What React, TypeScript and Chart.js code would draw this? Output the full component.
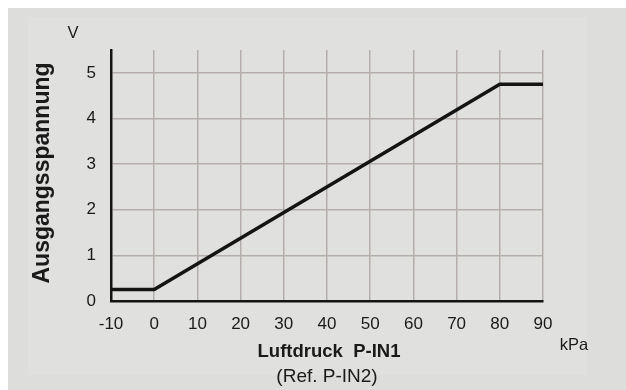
import React, { useEffect, useRef } from "react";
import { Chart, registerables } from "chart.js";

Chart.register(...registerables);

const pressureKPa = [-10, 0, 80, 90];
const outputVolt = [0.25, 0.25, 4.75, 4.75];
const yTickValues = [0, 1, 2, 3, 4, 5];
const xTitle = "Luftdruck  P-IN1";
const xSubTitle = "(Ref. P-IN2)";
const yTitle = "Ausgangsspannung";
const xUnit = "kPa";
const yUnit = "V";

const FONT = "'Liberation Sans', Arial, Helvetica, sans-serif";

const bgPlugin = {
  id: "bgPlugin",
  beforeDraw(chart: any) {
    const ctx = chart.ctx;
    ctx.save();
    ctx.fillStyle = "#dddddc";
    ctx.fillRect(0, 0, chart.width, chart.height);
    ctx.fillStyle = "#e0e0df";
    ctx.fillRect(20, 9, 559, 358);
    ctx.restore();
  },
  afterDraw(chart: any) {
    const ctx = chart.ctx;
    const area = chart.chartArea;
    ctx.save();
    ctx.fillStyle = "#1a1a1a";
    ctx.textAlign = "center";
    ctx.textBaseline = "alphabetic";
    ctx.font = `bold 18.5px ${FONT}`;
    ctx.fillText(xTitle, 321, 349);
    ctx.font = `19px ${FONT}`;
    ctx.fillText(xSubTitle, 319, 373.5);
    ctx.font = `16.5px ${FONT}`;
    ctx.fillText(xUnit, area.right + 31, 342);
    ctx.fillText(yUnit, 65, 30);
    ctx.translate(41, 165);
    ctx.rotate(-Math.PI / 2);
    ctx.font = `bold 23px ${FONT}`;
    ctx.fillText(yTitle, 0, 0);
    ctx.restore();
  },
};

export default function App() {
  const ref = useRef<HTMLCanvasElement>(null);
  useEffect(() => {
    if (!ref.current) return;
    const chart = new Chart(ref.current, {
      type: "line",
      data: {
        datasets: [
          {
            data: pressureKPa.map((x, i) => ({ x, y: outputVolt[i] })),
            borderColor: "#141414",
            borderWidth: 3.5,
            pointRadius: 0,
            tension: 0,
            fill: false,
          },
        ],
      },
      options: {
        responsive: false,
        animation: false,
        layout: { padding: { top: 42, left: 0, right: 83, bottom: 0 } },
        plugins: { legend: { display: false }, tooltip: { enabled: false } },
        scales: {
          x: {
            type: "linear",
            min: -10,
            max: 90,
            ticks: {
              stepSize: 10,
              padding: 13,
              color: "#1a1a1a",
              font: { family: FONT, size: 17 },
            },
            grid: { color: "#b3aeab", lineWidth: 1.5, drawTicks: false },
            border: { color: "#141414", width: 2.5 },
            afterFit: (s: any) => {
              s.height = 89;
            },
          },
          y: {
            type: "linear",
            min: 0,
            max: 5.5,
            afterBuildTicks: (s: any) => {
              s.ticks = yTickValues.map((v) => ({ value: v }));
            },
            ticks: {
              padding: 15,
              color: "#1a1a1a",
              font: { family: FONT, size: 17 },
            },
            grid: { color: "#b3aeab", lineWidth: 1.5, drawTicks: false },
            border: { color: "#141414", width: 2.5 },
            afterFit: (s: any) => {
              s.width = 103;
            },
          },
        },
      },
      plugins: [bgPlugin],
    });
    return () => chart.destroy();
  }, []);
  return (
    <div style={{ position: "fixed", left: 8, top: 8, width: 618, height: 382 }}>
      <canvas ref={ref} width={618} height={382} style={{ width: 618, height: 382, display: "block" }} />
    </div>
  );
}
